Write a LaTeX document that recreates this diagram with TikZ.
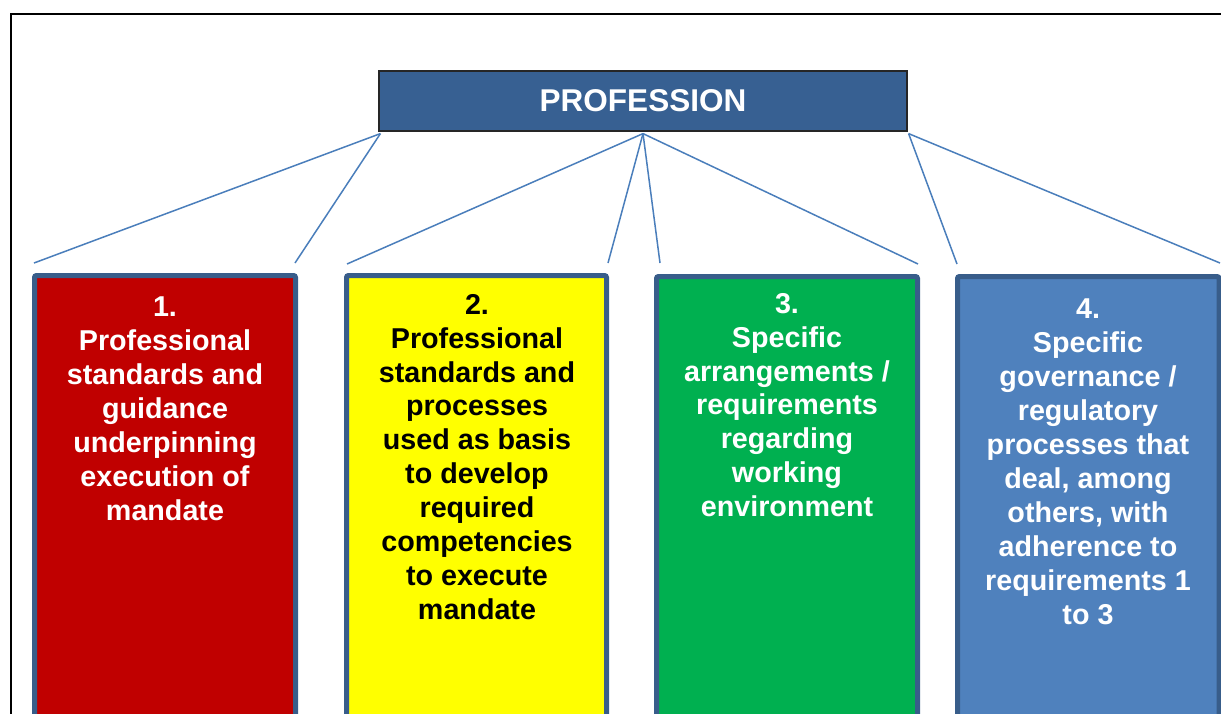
\documentclass[tikz,border=0pt]{standalone}
\usepackage{fontspec}
\setmainfont{Liberation Sans}
\definecolor{headfill}{HTML}{376092}
\definecolor{pillarline}{HTML}{385D8A}
\definecolor{linkblue}{HTML}{4A7EBB}
\definecolor{redfill}{HTML}{C00000}
\definecolor{yellowfill}{HTML}{FFFF00}
\definecolor{greenfill}{HTML}{00B050}
\definecolor{bluefill}{HTML}{4F81BD}
\begin{document}
\begin{tikzpicture}[x=1pt,y=-1pt,
  pillar/.style={draw=pillarline,line width=5pt,rounded corners=2pt},
  pillartext/.style={anchor=north,align=center,inner sep=0pt,font=\bfseries\fontsize{28.7}{33.9}\selectfont},
  link/.style={draw=linkblue,line width=1.5pt}]
\useasboundingbox (0,0) rectangle (1221,713);
\clip (0,0) rectangle (1221,713);
% outer frame
\draw[line width=2pt] (11,14) rectangle (1240,740);
% heading
\node[draw=black!85,line width=1.2pt,fill=headfill,minimum width=528pt,minimum height=60pt,inner sep=0pt,
  text=white,font=\bfseries\fontsize{31.5}{34}\selectfont] (prof) at (643,101) {PROFESSION};
% pillars
\path[pillar,fill=redfill] (34.5,275.5) rectangle (295.5,740);
\path[pillar,fill=yellowfill] (346.5,275.5) rectangle (606.5,740);
\path[pillar,fill=greenfill] (656.5,276.5) rectangle (917.5,740);
\path[pillar,fill=bluefill] (957.5,276.5) rectangle (1219,740);
\node[pillartext,text=white] (p1) at (165,297) {1.\\Professional\\standards and\\guidance\\underpinning\\execution of\\mandate};
\node[pillartext,text=black] (p2) at (477,294) {2.\\Professional\\standards and\\processes\\used as basis\\to develop\\required\\competencies\\to execute\\mandate};
\node[pillartext,text=white] (p3) at (787,293) {3.\\Specific\\arrangements /\\requirements\\regarding\\working\\environment};
\node[pillartext,text=white] (p4) at (1088,299) {4.\\Specific\\governance /\\regulatory\\processes that\\deal, among\\others, with\\adherence to\\requirements 1\\to 3};
% connector ends
\coordinate (a1) at (34,263);
\coordinate (a2) at (295,263);
\coordinate (b1) at (347,264);
\coordinate (b2) at (608,263);
\coordinate (c1) at (660,263);
\coordinate (c2) at (918,264);
\coordinate (d1) at (957,264);
\coordinate (d2) at (1220,263);
% connectors
\draw[link] ([xshift=2pt,yshift=-2pt]prof.south west) -- (a1);
\draw[link] ([xshift=2pt,yshift=-2pt]prof.south west) -- (a2);
\draw[link] ([yshift=-2pt]prof.south) -- (b1);
\draw[link] ([yshift=-2pt]prof.south) -- (b2);
\draw[link] ([yshift=-2pt]prof.south) -- (c1);
\draw[link] ([yshift=-2pt]prof.south) -- (c2);
\draw[link] ([xshift=1pt,yshift=-2pt]prof.south east) -- (d1);
\draw[link] ([xshift=1pt,yshift=-2pt]prof.south east) -- (d2);
\end{tikzpicture}
\end{document}
